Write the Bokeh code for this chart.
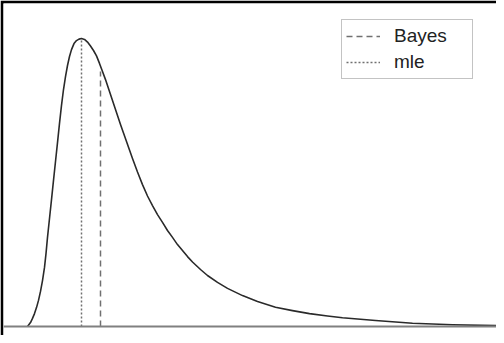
from bokeh.plotting import figure
from bokeh.models import Span, Legend, LegendItem, Range1d
from bokeh.embed import file_html
from bokeh.resources import INLINE

# posterior density
theta = [0.48, 0.54, 0.58, 0.62, 0.66, 0.70, 0.74, 0.78, 0.82, 0.85, 0.88, 0.92,
         0.96, 1.00, 1.04, 1.08, 1.12, 1.16, 1.20, 1.24, 1.28, 1.32, 1.36, 1.41,
         1.46, 1.51, 1.56, 1.62, 1.68, 1.74, 1.80, 1.86, 1.92, 1.98, 2.04, 2.10,
         2.16, 2.22, 2.28, 2.34, 2.40, 2.46, 2.52, 2.58, 2.68, 2.78, 2.88, 2.98,
         3.08, 3.18, 3.28, 3.38, 3.48, 3.58, 3.68, 3.78, 3.94, 4.08, 4.28, 4.48,
         4.78, 5.08, 5.44, 5.78, 6.12, 6.48, 6.78, 7.44, 8.18, 8.98, 9.86]
density = [0.000, 0.013, 0.027, 0.043, 0.063, 0.087, 0.117, 0.153, 0.197, 0.243, 0.297, 0.360,
           0.423, 0.487, 0.550, 0.613, 0.677, 0.737, 0.790, 0.833, 0.870, 0.900, 0.923, 0.943,
           0.953, 0.958, 0.960, 0.957, 0.948, 0.935, 0.920, 0.902, 0.877, 0.850, 0.823, 0.793,
           0.763, 0.733, 0.703, 0.673, 0.645, 0.617, 0.588, 0.560, 0.515, 0.473, 0.435, 0.403,
           0.373, 0.347, 0.320, 0.297, 0.273, 0.253, 0.233, 0.215, 0.190, 0.170, 0.147, 0.127,
           0.103, 0.083, 0.064, 0.053, 0.043, 0.035, 0.029, 0.020, 0.011, 0.006, 0.003]

mle_x = 1.56
mle_height = 0.96
bayes_x = 1.94
bayes_height = 0.85

p = figure(width=496, height=335, output_backend="svg", toolbar_location=None,
           x_axis_location=None, y_axis_location=None,
           x_range=Range1d(0, 9.86), y_range=Range1d(-0.03, 1.0767),
           min_border_left=3, min_border_top=3, min_border_right=0, min_border_bottom=0)
p.border_fill_color = "black"
p.background_fill_color = "white"
p.outline_line_color = None
p.grid.visible = False

p.add_layout(Span(location=0, dimension="width", line_color="#808080", line_width=2))

curve = p.line(theta, density, line_color="#2a2a2a", line_width=1.6,
               line_join="round")
bayes = p.line([bayes_x, bayes_x], [0, bayes_height], line_color="#707070",
               line_width=1.5, line_dash="6 4")
mle = p.line([mle_x, mle_x], [0, mle_height], line_color="#707070",
             line_width=1.5, line_dash="2 2")

legend = Legend(items=[LegendItem(label="Bayes", renderers=[bayes]),
                       LegendItem(label="mle", renderers=[mle])],
                location=(338, 256))
legend.label_text_font = "Liberation Sans"
legend.label_text_font_size = "19px"
legend.label_text_color = "#222222"
legend.border_line_color = "#888888"
legend.border_line_width = 1
legend.background_fill_color = "white"
legend.background_fill_alpha = 1.0
legend.padding = 4
legend.spacing = 2
legend.glyph_width = 34
legend.glyph_height = 24
legend.label_height = 24
legend.label_standoff = 14
legend.label_width = 74
legend.margin = 0
p.add_layout(legend)

open("out.html", "w").write(file_html(p, INLINE))
